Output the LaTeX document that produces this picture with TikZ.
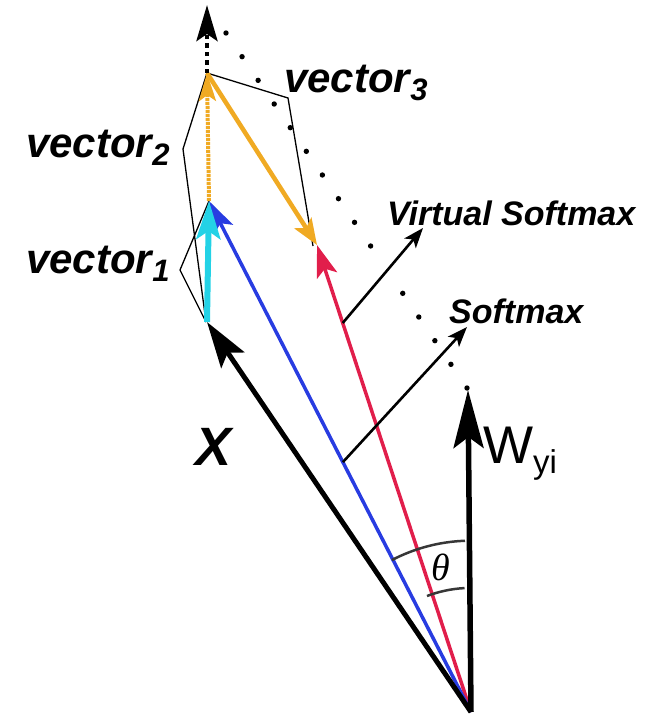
\documentclass[tikz,border=0pt]{standalone}
\usepackage{fontspec}
\setmainfont{Liberation Sans}
\newfontfamily\thetafont{Liberation Serif}
\usetikzlibrary{arrows.meta,calc}
\definecolor{vblue}{RGB}{40,60,225}
\definecolor{vred}{RGB}{225,30,75}
\definecolor{vcyan}{RGB}{35,210,230}
\definecolor{vorange}{RGB}{240,170,35}
\definecolor{arcgray}{RGB}{55,55,55}
\begin{document}
\begin{tikzpicture}[x=1pt,y=-1pt,
  thinline/.style={line width=1.3pt,black,line join=miter},
  lbl/.style={font=\fontsize{42}{42}\selectfont\bfseries\itshape,inner sep=0pt,anchor=base west},
  slbl/.style={font=\fontsize{34}{34}\selectfont\bfseries\itshape,inner sep=0pt,anchor=base west},
  smarrow/.style={line width=2.6pt,-{Stealth[length=20pt,width=15pt,inset=5pt]}},
  arcst/.style={line width=2.5pt,arcgray}]
\useasboundingbox (0,0) rectangle (672,716);
% key points
\coordinate (O) at (471,712);
\coordinate (Xt) at (207,322);
\coordinate (Bt) at (209,201);
\coordinate (Rt) at (317,245);
\coordinate (Vt) at (207,73);
\coordinate (Top) at (207,5);
\coordinate (Wt) at (468,390);
\coordinate (P1) at (288,98);
\coordinate (P2) at (183,149);
\coordinate (P3) at (180,270);
\coordinate (Pb) at (206,322);
\coordinate (Pr) at (313,246);
\coordinate (D0) at (226,33);
\coordinate (D15) at (467,388);
\coordinate (VSs) at ($(O)!0.833!(Rt)$);
\coordinate (VSe) at (423,228);
\coordinate (SMs) at ($(O)!0.489!(Bt)$);
\coordinate (SMe) at (467,327);
% dotted line of dots
\foreach \k in {0,...,15}{\ifnum\k=10\relax\else\fill ($(D0)!\k/15!(D15)$) circle (2.7pt);\fi}
% thin outlines
\draw[thinline] (Vt) -- (P1) -- (Pr);
\draw[thinline] (Vt) -- (P2) -- (Pb);
\draw[thinline] (Bt) -- (P3) -- (Pb);
% main vectors
\draw[line width=3.5pt,vred,-{Stealth[length=32pt,width=21pt,inset=7pt]}] (O) -- (Rt);
\draw[line width=3.5pt,vblue,-{Stealth[length=32pt,width=21pt,inset=7pt]}] (O) -- (Bt);
\draw[line width=5pt,black,-{Stealth[length=46pt,width=28pt,inset=9pt]}] (O) -- (Xt);
\draw[line width=5.5pt,black,-{Stealth[length=58pt,width=30pt,inset=11pt]}] (O) -- (Wt);
\draw[line width=6pt,vcyan,-{Stealth[length=38pt,width=24pt,inset=8pt]}] (Xt) -- (Bt);
\draw[line width=4pt,vorange,dash pattern=on 3pt off 1pt,-{Stealth[length=28pt,width=17pt,inset=6pt]}] (Bt) -- (Vt);
\draw[line width=4.5pt,vorange,-{Stealth[length=26pt,width=20pt,inset=6pt]}] (Vt) -- (Rt);
\draw[line width=4.5pt,black,dash pattern=on 4.5pt off 4pt,-{Stealth[length=36pt,width=21pt,inset=7pt]}] (Vt) -- (Top);
% softmax arrows
\draw[smarrow] (VSs) -- (VSe);
\draw[smarrow] (SMs) -- (SMe);
% angle arcs
\draw[arcst] ($(O)+(-79,-152)$) arc[start angle=117.5,end angle=92,radius=171pt];
\draw[arcst] ($(O)+(-44,-116)$) arc[start angle=110.8,end angle=93,radius=124pt];
\node[inner sep=0pt,font=\fontsize{38}{38}\selectfont\thetafont\itshape] (th) at (441,567) {θ};
% labels
\node[lbl] (v1) at (26,273) {vector\raisebox{-8pt}{\fontsize{31}{31}\selectfont 1}};
\node[lbl] (v2) at (26,157) {vector\raisebox{-8pt}{\fontsize{31}{31}\selectfont 2}};
\node[lbl] (v3) at (284,92) {vector\raisebox{-8pt}{\fontsize{31}{31}\selectfont 3}};
\node[slbl] (vs) at (387,225) {Virtual Softmax};
\node[slbl] (sm) at (449,323) {Softmax};
\node[inner sep=0pt,anchor=base west,font=\fontsize{54}{54}\selectfont\bfseries\itshape] (xl) at (195,465) {X};
\node[inner sep=0pt,anchor=base west,font=\fontsize{53}{53}\selectfont] (wl) at (483,463) {W\raisebox{-10pt}{\fontsize{33}{33}\selectfont yi}};
\end{tikzpicture}
\end{document}
